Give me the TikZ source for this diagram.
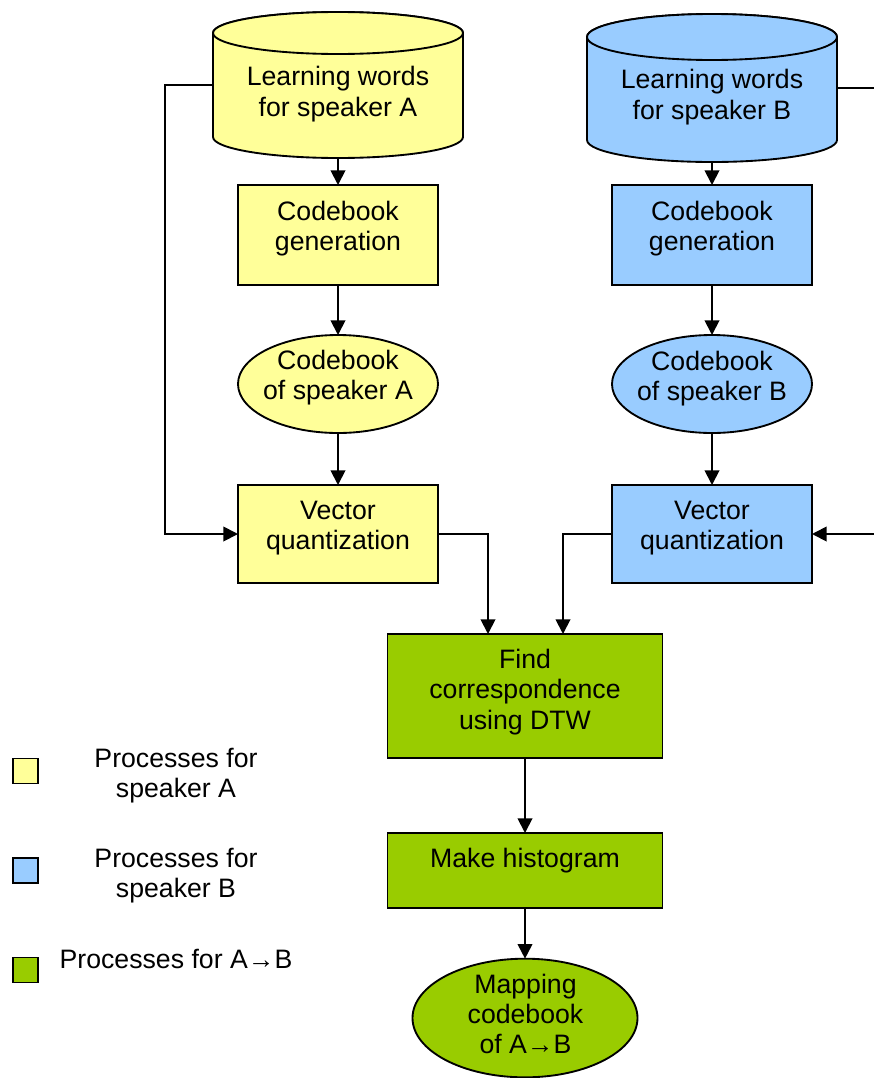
\documentclass[tikz,border=0pt]{standalone}
\usepackage{fontspec}
\setmainfont{Liberation Sans}
\usetikzlibrary{shapes.geometric,arrows.meta,calc}
\definecolor{procA}{HTML}{FFFF99}
\definecolor{procB}{HTML}{99CCFF}
\definecolor{procAB}{HTML}{99CC00}

\begin{document}
\begin{tikzpicture}[x=0.75pt,y=0.75pt,
  shp/.style={draw=black, line width=1.4pt, outer sep=0pt, inner sep=0pt},
  box/.style={shp, rectangle},
  oval/.style={shp, ellipse},
  hull/.style={rectangle, inner sep=0pt, outer sep=0pt},
  lbl/.style={align=center, font=\fontsize{20}{22.8}\selectfont, inner sep=0pt},
  link/.style={line width=1.4pt, -{Triangle[length=11pt,width=11pt]}},
  wire/.style={line width=1.4pt},
  drum/.style={draw=black, line width=1.4pt},
]
\useasboundingbox (0,0) rectangle (874,-1078);

% ---- cylinder: learning words for speaker A
\path[drum, fill=procA] (213,-33) -- (213,-137)
  arc[start angle=180, end angle=360, x radius=125, y radius=21]
  -- (463,-33) arc[start angle=0, end angle=180, x radius=125, y radius=21] -- cycle;
\draw[drum, fill=procA] (338,-33) ellipse[x radius=125, y radius=21];
\node[hull, minimum width=187.5pt, minimum height=109.5pt] (cylA) at (338,-85) {};
\node[lbl] (cylAtxt) at (338,-94) {Learning words\\for speaker A};

% ---- cylinder: learning words for speaker B
\path[drum, fill=procB] (587,-37) -- (587,-140)
  arc[start angle=180, end angle=360, x radius=125, y radius=22]
  -- (837,-37) arc[start angle=0, end angle=180, x radius=125, y radius=23] -- cycle;
\draw[drum, fill=procB] (712,-37) ellipse[x radius=125, y radius=23];
\node[hull, minimum width=187.5pt, minimum height=111pt] (cylB) at (712,-88) {};
\node[lbl] (cylBtxt) at (712,-97) {Learning words\\for speaker B};

% ---- speaker A column
\node[box, fill=procA, minimum width=150pt, minimum height=75pt] (cgA) at (338,-235) {};
\node[lbl] (cgAtxt) at (338,-228.5) {Codebook\\generation};
\node[oval, fill=procA, minimum width=150pt, minimum height=73.5pt] (cbA) at (338,-384) {};
\node[lbl] (cbAtxt) at (338,-377.5) {Codebook\\of speaker A};
\node[box, fill=procA, minimum width=150pt, minimum height=73.5pt] (vqA) at (338,-534) {};
\node[lbl] (vqAtxt) at (338,-528) {Vector\\quantization};

% ---- speaker B column
\node[box, fill=procB, minimum width=150pt, minimum height=75pt] (cgB) at (712,-235) {};
\node[lbl] (cgBtxt) at (712,-228.5) {Codebook\\generation};
\node[oval, fill=procB, minimum width=150pt, minimum height=73.5pt] (cbB) at (712,-384) {};
\node[lbl] (cbBtxt) at (712,-378.5) {Codebook\\of speaker B};
\node[box, fill=procB, minimum width=150pt, minimum height=73.5pt] (vqB) at (712,-534) {};
\node[lbl] (vqBtxt) at (712,-528) {Vector\\quantization};

% ---- joint processing A -> B
\node[box, fill=procAB, minimum width=206.25pt, minimum height=93pt] (dtw) at (525,-696) {};
\node[lbl] (dtwtxt) at (525,-692) {Find\\correspondence\\using DTW};
\node[box, fill=procAB, minimum width=206.25pt, minimum height=56.25pt] (hist) at (525,-870.5) {};
\node[lbl] (histtxt) at (525,-861) {Make histogram};
\node[oval, fill=procAB, minimum width=168.75pt, minimum height=89pt] (map) at (525,-1018) {};
\node[lbl] (maptxt) at (525.5,-1014) {Mapping\\codebook\\of A→B};

% ---- connectors
\draw[link] (cylA.south) -- (cgA.north);
\draw[link] (cgA.south) -- (cbA.north);
\draw[link] (cbA.south) -- (vqA.north);
\draw[link] (cylA.west) -- (165,-85) |- (vqA.west);

\draw[link] (cylB.south) -- (cgB.north);
\draw[link] (cgB.south) -- (cbB.north);
\draw[link] (cbB.south) -- (vqB.north);
\coordinate (edgeTop) at (877,-88);
\coordinate (edgeBot) at (877,-534);
\draw[wire] (cylB.east) -- (edgeTop);
\draw[link] (edgeBot) -- (vqB.east);

\draw[link] (vqA.east) -| ($(dtw.north)+(-37,0)$);
\draw[link] (vqB.west) -| ($(dtw.north)+(38,0)$);
\draw[link] (dtw.south) -- (hist.north);
\draw[link] (hist.south) -- (map.north);

% ---- legend
\node[box, fill=procA, minimum width=18.75pt, minimum height=18.75pt] (keyA) at (25.5,-771) {};
\node[lbl] (keyAtxt) at (176,-775.5) {Processes for\\speaker A};
\node[box, fill=procB, minimum width=18.75pt, minimum height=18.75pt] (keyB) at (25.5,-870.5) {};
\node[lbl] (keyBtxt) at (176,-875.5) {Processes for\\speaker B};
\node[box, fill=procAB, minimum width=18.75pt, minimum height=18.75pt] (keyAB) at (25.5,-970) {};
\node[lbl] (keyABtxt) at (176,-959) {Processes for A→B};
\end{tikzpicture}
\end{document}
